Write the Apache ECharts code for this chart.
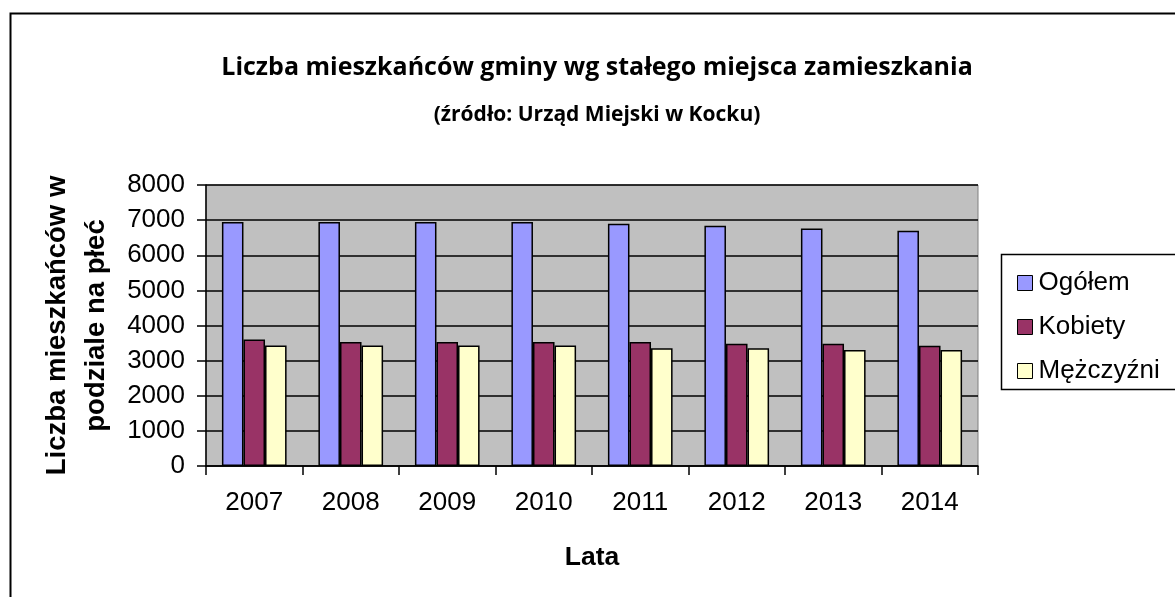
<!DOCTYPE html>
<html>
<head>
<meta charset="utf-8">
<script src="https://cdn.jsdelivr.net/npm/echarts@6/dist/echarts.min.js"></script>
<style>
html,body{margin:0;padding:0;background:#fff;}
#chart{width:1175px;height:597px;}
</style>
</head>
<body>
<div id="chart"></div>
<script>
var years = ['2007','2008','2009','2010','2011','2012','2013','2014'];
var ogolem = [6950, 6950, 6950, 6950, 6900, 6840, 6760, 6700];
var kobiety = [3600, 3530, 3530, 3530, 3530, 3480, 3480, 3420];
var mezczyzni = [3430, 3430, 3430, 3430, 3350, 3350, 3300, 3300];

var chart = echarts.init(document.getElementById('chart'));
var barBorder = {borderColor: '#000', borderWidth: 1.5};

chart.setOption({
    animation: false,
    backgroundColor: '#fff',
    title: [{
        text: 'Liczba mieszkańców gminy wg stałego miejsca zamieszkania',
        left: 592, top: 50, textAlign: 'center',
        textStyle: {fontFamily: 'Open Sans', fontWeight: 'bold', fontSize: 25, color: '#000'}
    }, {
        text: '(źródło: Urząd Miejski w Kocku)',
        left: 592, top: 100, textAlign: 'center',
        textStyle: {fontFamily: 'Open Sans', fontWeight: 'bold', fontSize: 21, color: '#000'}
    }],
    graphic: [{
        type: 'rect', z: -1,
        shape: {x: 10.5, y: 13.5, width: 1200, height: 700},
        style: {fill: 'none', stroke: '#000', lineWidth: 2}
    }, {
        type: 'rect', z: -1,
        shape: {x: 1001.5, y: 254.5, width: 200, height: 135},
        style: {fill: '#fff', stroke: '#000', lineWidth: 1.5}
    }],
    legend: {
        orient: 'vertical',
        left: 1012, top: 265,
        itemWidth: 15, itemHeight: 15, itemGap: 18,
        icon: 'rect',
        itemStyle: {borderColor: '#000', borderWidth: 1},
        textStyle: {fontFamily: 'Liberation Sans', fontSize: 26, lineHeight: 26, color: '#000', padding: [0, 0, 0, 1]},
        data: ['Ogółem', 'Kobiety', 'Mężczyźni']
    },
    grid: {left: 206, right: 197, top: 185, bottom: 131, show: true, backgroundColor: '#c0c0c0', borderColor: '#808080', borderWidth: 1},
    xAxis: {
        type: 'category',
        data: years,
        name: 'Lata', nameLocation: 'middle', nameGap: 78,
        nameTextStyle: {fontFamily: 'Liberation Sans', fontWeight: 'bold', fontSize: 26.5, color: '#000'},
        axisLine: {lineStyle: {color: '#000', width: 1.5}},
        axisTick: {show: true, length: 9, lineStyle: {color: '#000', width: 1.5}},
        axisLabel: {fontFamily: 'Liberation Sans', fontSize: 26, color: '#000', margin: 24}
    },
    yAxis: {
        type: 'value', min: 0, max: 8000, interval: 1000,
        name: 'Liczba mieszkańców w\npodziale na płeć', nameLocation: 'middle', nameGap: 89,
        nameTextStyle: {fontFamily: 'Liberation Sans', fontWeight: 'bold', fontSize: 27.5, color: '#000', lineHeight: 39},
        axisLine: {show: true, lineStyle: {color: '#000', width: 1.5}},
        axisTick: {show: true, length: 9, lineStyle: {color: '#000', width: 1.5}},
        axisLabel: {fontFamily: 'Liberation Sans', fontSize: 26, color: '#000', margin: 21,
            formatter: function (v) { return String(v); }},
        splitLine: {lineStyle: {color: '#000', width: 1.5}}
    },
    series: [{
        name: 'Ogółem', type: 'bar', data: ogolem,
        barGap: '0%', barCategoryGap: '33%',
        itemStyle: Object.assign({color: '#9999ff'}, barBorder)
    }, {
        name: 'Kobiety', type: 'bar', data: kobiety,
        itemStyle: Object.assign({color: '#993366'}, barBorder)
    }, {
        name: 'Mężczyźni', type: 'bar', data: mezczyzni,
        itemStyle: Object.assign({color: '#ffffcc'}, barBorder)
    }]
});
</script>
</body>
</html>
